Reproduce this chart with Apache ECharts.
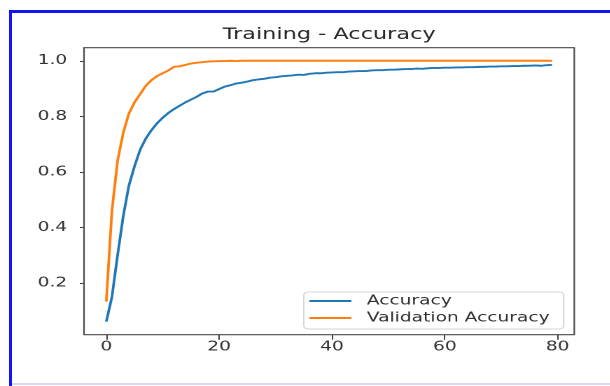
<!DOCTYPE html>
<html>
<head>
<meta charset="utf-8">
<script src="https://cdn.jsdelivr.net/npm/echarts@6/dist/echarts.min.js"></script>
<style>
  html, body { margin: 0; padding: 0; background: #fff; }
  #frame { position: relative; width: 610px; height: 386px; overflow: hidden; background: #fff; }
  /* the chart is laid out narrow and stretched sideways, giving the wide lettering */
  #chart { position: absolute; left: 0; top: 0; width: 436px; height: 386px;
           transform: scaleX(1.4); transform-origin: 0 0; }
  .edge { position: absolute; }
  #edgeTop { left: 10px; top: 10px; width: 600px; height: 3px; background: #1414f0; }
  #edgeLeft { left: 9px; top: 10px; width: 3px; height: 376px; background: #1414f0; }
  #edgeBottom { left: 12px; top: 383px; width: 598px; height: 2px; background: #d9d9f7; }
</style>
</head>
<body>
<div id="frame">
  <div id="chart"></div>
  <div class="edge" id="edgeTop"></div>
  <div class="edge" id="edgeLeft"></div>
  <div class="edge" id="edgeBottom"></div>
</div>
<script>
// Training history, one value per epoch (epochs 0..79)
const accuracy = [
  0.061, 0.150, 0.300, 0.440, 0.550, 0.620, 0.680, 0.720, 0.750, 0.775,
  0.795, 0.812, 0.826, 0.838, 0.850, 0.860, 0.870, 0.882, 0.889, 0.889,
  0.898, 0.907, 0.912, 0.918, 0.921, 0.925, 0.930, 0.933, 0.935, 0.939,
  0.941, 0.944, 0.946, 0.947, 0.950, 0.949, 0.953, 0.955, 0.955, 0.957,
  0.958, 0.959, 0.959, 0.961, 0.962, 0.963, 0.963, 0.965, 0.966, 0.966,
  0.968, 0.968, 0.969, 0.970, 0.970, 0.972, 0.971, 0.973, 0.974, 0.974,
  0.975, 0.975, 0.976, 0.976, 0.977, 0.977, 0.978, 0.978, 0.979, 0.979,
  0.980, 0.980, 0.981, 0.981, 0.982, 0.982, 0.983, 0.982, 0.984, 0.985
];
const valAccuracy = [
  0.133, 0.460, 0.640, 0.740, 0.810, 0.850, 0.880, 0.910, 0.930, 0.945,
  0.955, 0.965, 0.978, 0.980, 0.985, 0.990, 0.993, 0.995, 0.997, 0.998,
  0.999, 0.999, 1.000, 0.999, 1.000, 1.000, 1.000, 1.000, 1.000, 1.000,
  1.000, 1.000, 1.000, 1.000, 1.000, 1.000, 1.000, 1.000, 1.000, 1.000,
  1.000, 1.000, 1.000, 1.000, 1.000, 1.000, 1.000, 1.000, 1.000, 1.000,
  1.000, 1.000, 1.000, 1.000, 1.000, 1.000, 1.000, 1.000, 1.000, 1.000,
  1.000, 1.000, 1.000, 1.000, 1.000, 1.000, 1.000, 1.000, 1.000, 1.000,
  1.000, 1.000, 1.000, 1.000, 1.000, 1.000, 1.000, 1.000, 1.000, 1.000
];
const xTicks = [0, 20, 40, 60, 80];
const yTicks = [0.2, 0.4, 0.6, 0.8, 1.0];
const seriesNames = ['Accuracy', 'Validation Accuracy'];
const titleText = 'Training - Accuracy';

const FONT = 'DejaVu Sans';
const toPairs = arr => arr.map((v, epoch) => [epoch, v]);

const chart = echarts.init(document.getElementById('chart'), null, { devicePixelRatio: 2 });

chart.setOption({
  animation: false,
  backgroundColor: 'transparent',
  textStyle: { fontFamily: FONT },
  grid: {
    left: 60, right: 25.8, top: 47.7, bottom: 51.3,
    show: true, borderColor: '#4a4a4a', borderWidth: 1.1, backgroundColor: '#fff'
  },
  graphic: [{
    type: 'text',
    x: 235.1, y: 35,
    style: {
      text: titleText, fontFamily: FONT, fontSize: 16, fill: '#262626',
      align: 'center', verticalAlign: 'middle'
    }
  }],
  legend: {
    orient: 'vertical',
    left: 217, top: 292,
    icon: 'rect',
    itemWidth: 30, itemHeight: 2, itemGap: 3,
    padding: [2, 10, 4, 4],
    backgroundColor: 'rgba(255,255,255,0.85)',
    borderColor: '#d6d6d6', borderWidth: 1, borderRadius: 3,
    textStyle: {
      fontFamily: FONT, fontSize: 13.3, color: '#303030',
      lineHeight: 14, padding: [0, 0, 0, 6]
    },
    data: seriesNames
  },
  xAxis: {
    type: 'value', min: -3.95, max: 82.95,
    axisLine: { show: false, onZero: false },
    splitLine: { show: false },
    axisTick: { show: true, length: 5, customValues: xTicks,
                lineStyle: { color: '#404040', width: 1 } },
    axisLabel: { customValues: xTicks, margin: 6, fontFamily: FONT, fontSize: 13.3,
                 color: '#333', showMinLabel: true, showMaxLabel: true }
  },
  yAxis: {
    type: 'value', min: 0.014, max: 1.047,
    axisLine: { show: false, onZero: false },
    splitLine: { show: false },
    axisTick: { show: true, length: 3, customValues: yTicks,
                lineStyle: { color: '#404040', width: 1 } },
    axisLabel: { customValues: yTicks, margin: 12, fontFamily: FONT, fontSize: 13.3,
                 color: '#333', formatter: v => v.toFixed(1) }
  },
  series: [
    {
      name: seriesNames[0], type: 'line', data: toPairs(accuracy),
      symbol: 'none', color: '#1f77b4',
      lineStyle: { width: 1.9, color: '#1f77b4' }
    },
    {
      name: seriesNames[1], type: 'line', data: toPairs(valAccuracy),
      symbol: 'none', color: '#ff7f0e',
      lineStyle: { width: 1.9, color: '#ff7f0e' }
    }
  ]
});
</script>
</body>
</html>
